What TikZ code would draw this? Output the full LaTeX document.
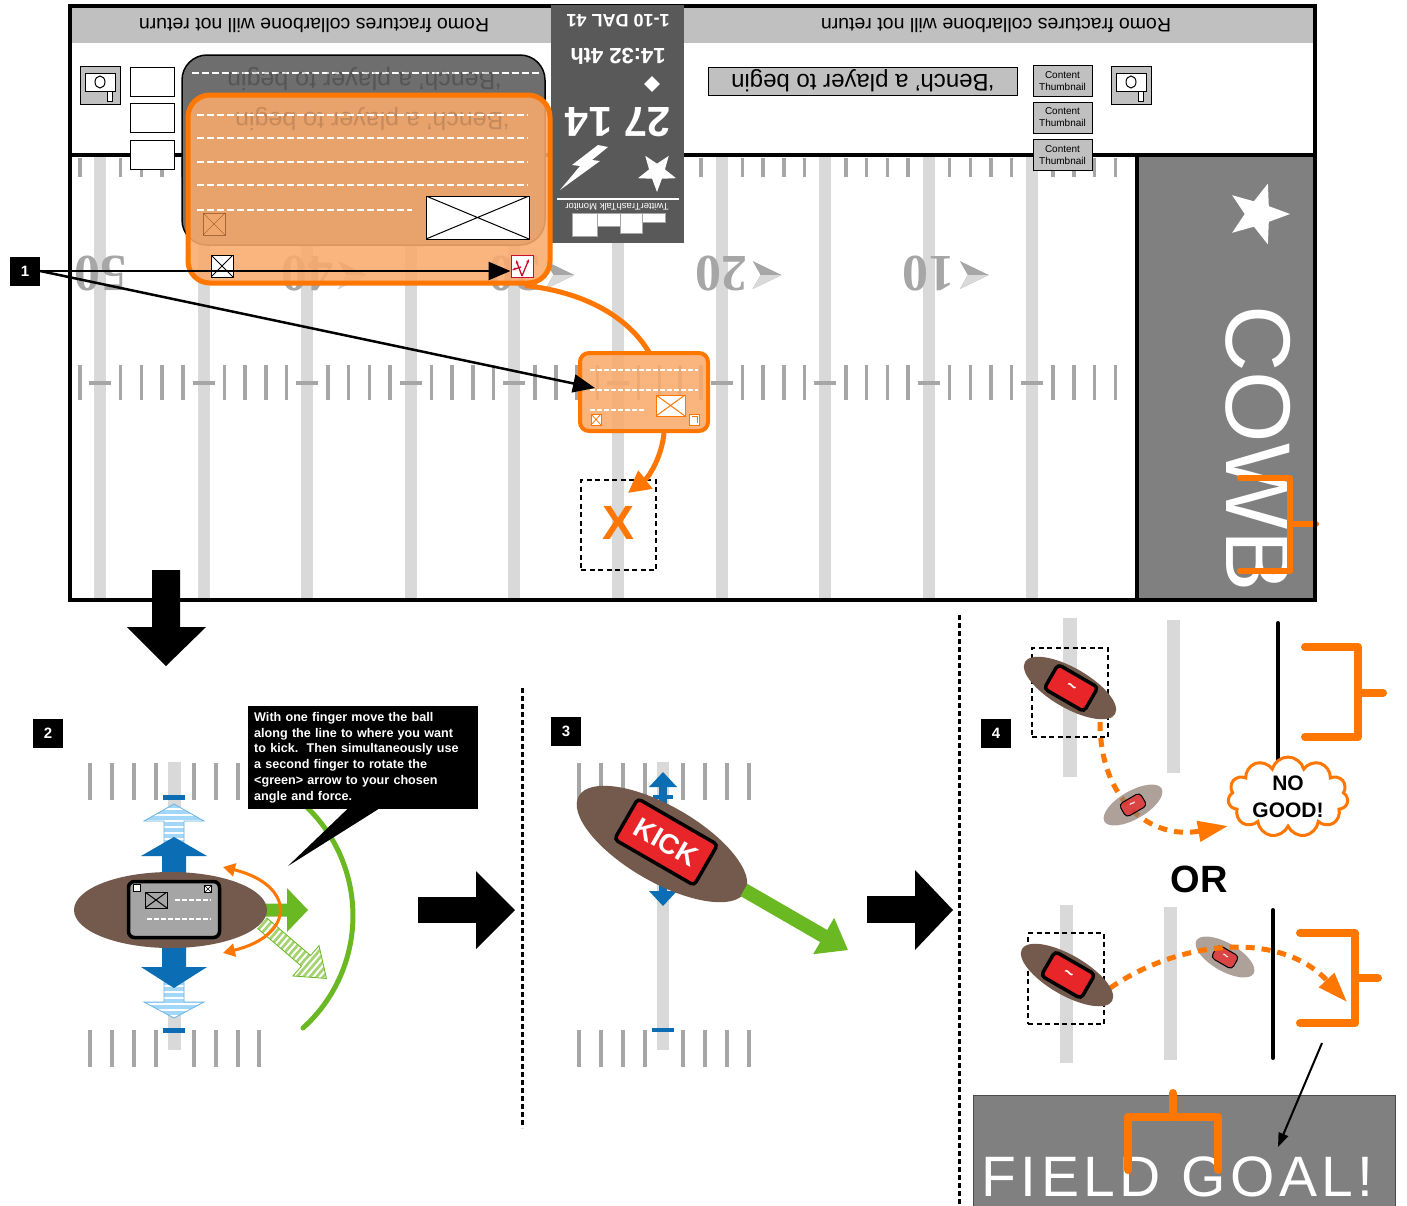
\documentclass[tikz,border=0pt]{standalone}
\usepackage{fontspec}
\setmainfont{Liberation Sans}
\newfontfamily\yardfont{Liberation Serif}
\newfontfamily\widefont{Liberation Sans}[LetterSpace=8]
\usetikzlibrary{arrows.meta,shapes.geometric,shapes.symbols,calc}

\definecolor{fieldline}{HTML}{D9D9D9}
\definecolor{hash}{HTML}{A6A6A6}
\definecolor{band}{HTML}{C0C0C0}
\definecolor{board}{HTML}{595959}
\definecolor{ezone}{HTML}{808080}
\definecolor{orng}{HTML}{FF7700}
\definecolor{orfill}{HTML}{FAAA6C}
\definecolor{slate}{HTML}{6E6E6E}
\definecolor{ball}{HTML}{735A4C}
\definecolor{ghost}{HTML}{8B7A6E}
\definecolor{kblue}{HTML}{0B6DB4}
\definecolor{lblue}{HTML}{A3D7F7}
\definecolor{lblueline}{HTML}{6CB4E4}
\definecolor{kgreen}{HTML}{6AB923}
\definecolor{lgreen}{HTML}{A5D36F}
\definecolor{kred}{HTML}{E8262A}
\definecolor{crim}{HTML}{C8102E}
\definecolor{cardgray}{HTML}{A5A5A5}

\begin{document}
\begin{tikzpicture}[x=1pt, y=-1pt,
  hashline/.style={draw=hash, line width=3.5pt},
  tickmark/.style={draw=hash, line width=4pt},
  yardnum/.style={text=hash, rotate=180, inner sep=0pt, font=\yardfont\bfseries\fontsize{52}{52}\selectfont},
  numlab/.style={fill=black, text=white, minimum width=30pt, minimum height=29pt, inner sep=0pt, font=\bfseries\fontsize{15}{15}\selectfont},
  ptr/.style={line width=2.5pt, -{Triangle[length=22pt,width=18pt]}},
  orline/.style={draw=orng, line width=5pt},
  ordash/.style={draw=orng, line width=5pt, dash pattern=on 9pt off 7pt},
  panelsep/.style={line width=3pt, dash pattern=on 5pt off 3pt},
  spotbox/.style={draw, line width=2.5pt, dash pattern=on 5pt off 3.5pt, inner sep=0pt},
  xbox/.style={draw=#1, fill=white, inner sep=0pt, path picture={
      \draw[#1] (path picture bounding box.north west) -- (path picture bounding box.south east)
            (path picture bounding box.south west) -- (path picture bounding box.north east);}},
  xbox/.default=black,
  carddash/.style={white, line width=2pt, dash pattern=on 7pt off 3pt},
  goalpost/.style={draw=orng, line width=8pt, line cap=round, line join=round},
  whitebox/.style={draw, fill=white, line width=0.8pt, minimum width=44pt, minimum height=29pt, inner sep=0pt},
  thumb/.style={draw, fill=band, line width=0.8pt, minimum width=59pt, minimum height=31pt, inner sep=0pt, align=center, font=\fontsize{10}{12}\selectfont},
  kickcard/.style={draw=black, fill=kred, rounded corners=4pt, inner sep=0pt, text=white},
  ballshape/.style={ellipse, fill=ball, inner sep=0pt},
  ghostball/.style={ellipse, fill=ghost, fill opacity=0.7, inner sep=0pt},
  ticker/.style={rotate=180, inner sep=0pt, font=\fontsize{19.5}{20}\selectfont},
  sbtext/.style={rotate=180, text=white, inner sep=0pt},
  camera/.pic={
    \draw[fill=band, line width=1pt] (-20,-19) rectangle (20,19);
    \draw[fill=white, line width=1pt] (-15,-12) rectangle (15,6);
    \draw[line width=1pt] (0,-3) ellipse [x radius=5, y radius=6];
    \draw[fill=white, line width=1pt] (7,6) rectangle (12,16);
  }
]
\useasboundingbox (0,0) rectangle (1407,1205);
\fill[white] (0,0) rectangle (1407,1205);

% ================= top screen: header band =================
\fill[band] (70,6) rectangle (1315,43);

% ================= field =================
\foreach \k in {0,...,9}{
  \fill[fieldline] (100+103.6*\k-6,157) rectangle (100+103.6*\k+6,598);
}
\foreach \k in {0,...,9}{
  \foreach \j in {1,...,4}{
    \draw[hashline] (100+103.6*\k+20.72*\j,158) -- (100+103.6*\k+20.72*\j,177);
    \draw[hashline] (100+103.6*\k+20.72*\j,365) -- (100+103.6*\k+20.72*\j,400);
  }
  \draw[hashline] (100+103.6*\k-11,383) -- (100+103.6*\k+11,383);
}
\draw[hashline] (80,158) -- (80,177);
\draw[hashline] (80,365) -- (80,400);

% yard numbers (far sideline, upside down)
\foreach \n/\k in {50/0,40/1,30/2,20/3,10/4}{
  \node[yardnum] (yd\n) at (100+207.2*\k,274) {\n};
}
\foreach \k in {1,...,4}{
  \fill[hash] (100+207.2*\k+31,261) -- (100+207.2*\k+60,275) -- (100+207.2*\k+31,289) -- (100+207.2*\k+39,275) -- cycle;
  \fill[fieldline] (100+207.2*\k+39,275) -- (100+207.2*\k+60,275) -- (100+207.2*\k+31,289) -- cycle;
}

% end zone
\fill[ezone] (1137,155) rectangle (1315,600);
\node[star, star points=5, star point ratio=2.4, fill=white, minimum size=64pt, inner sep=0pt, rotate=-90] (ezstar) at (1258,214) {};
\begin{scope}
  \clip (1137,155) rectangle (1315,600);
  \node[anchor=base west, rotate=-90, text=white, inner sep=0pt, font=\fontsize{92}{92}\selectfont] (cowb) at (1226,305) {COWB};
\end{scope}
\draw[goalpost, line width=6pt] (1240,478) -- (1290,478) -- (1290,571) -- (1240,571);
\draw[goalpost, line width=6pt] (1290,524) -- (1316,524);

% frame
\draw[line width=4pt] (70,6) rectangle (1315,600);
\draw[line width=4pt] (70,155) -- (1315,155);
\draw[line width=4pt] (1137,155) -- (1137,600);

% ================= scoreboard =================
\fill[board] (551,5) rectangle (684,243);
\node[sbtext, font=\bfseries\fontsize{18}{18}\selectfont] (downs) at (618,21) {1-10 DAL 41};
\node[sbtext, font=\bfseries\fontsize{22}{22}\selectfont] (clock) at (618,56) {14:32 4th};
\node[diamond, fill=white, minimum size=16pt, inner sep=0pt] (poss) at (652,84) {};
\node[sbtext, font=\bfseries\fontsize{42}{42}\selectfont] (score) at (618,122) {27 14};
\fill[white] (598,145) -- (608,147) -- (592,160) -- (600,161) -- (560,190) -- (580,166) -- (572,165) -- cycle;
\node[star, star points=5, star point ratio=2.4, fill=white, minimum size=40pt, inner sep=0pt, rotate=180] (teamstar) at (657,172) {};
\draw[white, line width=2pt] (557,199) -- (679,199);
\node[sbtext, font=\fontsize{9.5}{9.5}\selectfont] (ttm) at (617,207) {TwitterTrashTalk Monitor};
\foreach \a/\b/\c in {572/597/236, 597/620/226, 620/642/233, 642/665/222}{
  \draw[fill=white, draw=black!35] (\a,213) rectangle (\b,\c);
}

% ================= header UI =================
\node[ticker] (tickerL) at (314,25) {Romo fractures collarbone will not return};
\node[ticker] (tickerR) at (996,25) {Romo fractures collarbone will not return};
\pic (camL) at (100,85) {camera};
\pic (camR) at (1131,85) {camera};
\node[whitebox] (tb1) at (152,81.5) {};
\node[whitebox] (tb2) at (152,117.5) {};
\node[whitebox] (tb3) at (152,155) {};
\node[thumb] (th1) at (1062.5,81) {Content\\Thumbnail};
\node[thumb] (th2) at (1062.5,117.5) {Content\\Thumbnail};
\node[thumb] (th3) at (1062.5,155) {Content\\Thumbnail};
\node[draw, fill=band, line width=1pt, rotate=180, minimum width=309pt, minimum height=28pt, inner sep=0pt, font=\fontsize{24}{24}\selectfont] (benchbox) at (862.5,81) {‘Bench’ a player to begin};

% bench panel behind the active card
\node[draw=black, line width=1.5pt, fill=slate, rounded corners=25pt, minimum width=363pt, minimum height=190pt, inner sep=0pt] (slatebox) at (363.5,150) {};
\draw[carddash] (192,73) -- (540,73);
\node[rotate=180, text=black, opacity=0.22, inner sep=0pt, font=\fontsize{25}{25}\selectfont] (benchghost) at (364,79) {‘Bench’ a player to begin};

% active orange card
\node[draw=orng, line width=5pt, fill=orfill, fill opacity=0.88, rounded corners=22pt, minimum width=362pt, minimum height=188pt, inner sep=0pt] (bigcard) at (369,189) {};
\node[rotate=180, text=black, opacity=0.15, inner sep=0pt, font=\fontsize{25}{25}\selectfont] (benchfaint) at (372,119) {‘Bench’ a player to begin};
\foreach \yy in {115,138,162,185}{ \draw[carddash] (197,\yy) -- (528,\yy); }
\draw[carddash] (197,210) -- (412,210);
\node[xbox, minimum width=103pt, minimum height=43pt, line width=1pt] (ximg) at (477.5,217.5) {};
\node[xbox=black!60!orng, fill=orfill, minimum width=22pt, minimum height=22pt, opacity=0.5] (xfaint) at (214,224) {};
\node[xbox, minimum width=22pt, minimum height=22pt, line width=1pt] (xsmall) at (222,266) {};
\node[draw=crim, fill=white, line width=1pt, minimum size=22pt, inner sep=0pt] (swap) at (522,266) {};
\draw[crim, line width=1.3pt, -{Stealth[length=4pt]}] (522,276) -- (516,260);
\draw[crim, line width=1.3pt, -{Stealth[length=4pt]}] (522,276) -- (529,259);
\draw[crim, line width=1.3pt, -{Stealth[length=4pt]}] (521,267) -- (512,270);

% callout 1
\node[numlab] (lab1) at (25,271) {1};
\draw[ptr] (lab1.east) -- (lab1.east -| swap.west);

% small orange card on the field
\draw[orline] ([xshift=156pt]bigcard.south) .. controls (592,293) and (632,322) .. (650,354);
\node[draw=orng, line width=4pt, fill=orfill, fill opacity=0.88, rounded corners=9pt, minimum width=128pt, minimum height=78pt, inner sep=0pt] (smallcard) at (644,392) {};
\foreach \yy in {370,390}{ \draw[white, line width=1.5pt, dash pattern=on 5pt off 2pt] (590,\yy) -- (698,\yy); }
\draw[white, line width=1.5pt, dash pattern=on 5pt off 2pt] (590,410) -- (645,410);
\node[xbox=orng, minimum width=29pt, minimum height=21pt, line width=1pt] (ximg2) at (670.5,405.5) {};
\node[xbox=orng, minimum width=10pt, minimum height=11pt, line width=0.8pt] (xsmall2) at (596,419.5) {};
\node[draw=orng, fill=white, minimum width=10pt, minimum height=11pt, inner sep=0pt, line width=0.8pt] (swap2) at (694.5,419.5) {};
\draw[orng, line width=0.8pt] (692,416) -- (697,416) -- (697,423);
\coordinate (hit) at (595,388);
\draw[ptr] (lab1.east) -- (hit);

% drop target
\node[spotbox, minimum width=75pt, minimum height=90pt] (target) at (618.5,525) {};
\node[text=orng, inner sep=0pt, font=\bfseries\fontsize{48}{48}\selectfont] (xmark) at (618,523) {X};
\coordinate (drop) at (628,493);
\draw[orline, -{Triangle[length=22pt,width=22pt]}] ([xshift=20pt]smallcard.south) .. controls (662,455) and (650,476) .. (drop);

% step down
\fill (152,570) -- (180,570) -- (180,627) -- (206,627) -- (166,666) -- (127,627) -- (152,627) -- cycle;

% separators
\draw[panelsep] (522,688) -- (522,1128);
\draw[panelsep] (959,615) -- (959,1205);

% ================= panel 2 =================
\node[numlab] (lab2) at (48,733) {2};
\foreach \x in {90,112,134,156,194,216,238}{ \draw[tickmark] (\x,763) -- (\x,800); }
\foreach \x in {90,112,134,156,194,216,238,259}{ \draw[tickmark] (\x,1030) -- (\x,1067); }
\fill[fieldline] (168,762) rectangle (181,1050);
\fill[kblue] (163,795) rectangle (185,800);
\fill[kblue] (163,1028) rectangle (185,1033);
% light striped arrows
\begin{scope}
  \clip (164,860) -- (164,821) -- (144,821) -- (174,804) -- (204,821) -- (184,821) -- (184,860) -- cycle;
  \fill[lblue] (140,800) rectangle (210,862);
  \foreach \yy in {809,815,...,860}{ \draw[white, line width=2pt] (140,\yy) -- (210,\yy); }
\end{scope}
\draw[lblueline, line width=0.8pt] (164,860) -- (164,821) -- (144,821) -- (174,804) -- (204,821) -- (184,821) -- (184,860);
\begin{scope}
  \clip (164,960) -- (164,1002) -- (144,1002) -- (174,1018) -- (204,1002) -- (184,1002) -- (184,960) -- cycle;
  \fill[lblue] (140,958) rectangle (210,1020);
  \foreach \yy in {962,968,...,1016}{ \draw[white, line width=2pt] (140,\yy) -- (210,\yy); }
\end{scope}
\draw[lblueline, line width=0.8pt] (164,960) -- (164,1002) -- (144,1002) -- (174,1018) -- (204,1002) -- (184,1002) -- (184,960);
% solid blue arrows
\fill[kblue] (162,880) -- (162,856) -- (141,856) -- (174,837) -- (207,856) -- (186,856) -- (186,880) -- cycle;
\fill[kblue] (162,940) -- (162,967) -- (141,967) -- (174,988) -- (207,967) -- (186,967) -- (186,940) -- cycle;
% green arc and arrows
\draw[kgreen, line width=5pt, line cap=round] (303,1028) arc[start angle=48, end angle=-55, radius=151];
\begin{scope}[shift={(262,923)}, rotate=-40.7]
  \begin{scope}
    \clip (0,-7) -- (58,-7) -- (58,-20) -- (85,0) -- (58,20) -- (58,7) -- (0,7) -- cycle;
    \fill[lgreen] (-2,-22) rectangle (88,22);
    \foreach \xx in {4,9,...,84}{ \draw[white, line width=2pt] (\xx,-22) -- (\xx,22); }
  \end{scope}
  \draw[kgreen, line width=0.8pt] (0,-7) -- (58,-7) -- (58,-20) -- (85,0) -- (58,20) -- (58,7) -- (0,7);
\end{scope}
\fill[kgreen] (262,903.5) -- (287,903.5) -- (287,888) -- (308,910) -- (287,932) -- (287,916.5) -- (262,916.5) -- cycle;
\draw[orng, line width=3pt, {Triangle[length=12pt,width=13pt]}-{Triangle[length=12pt,width=13pt]}] (223,867) .. controls (296,885) and (296,935) .. (223,953);
% ball with card
\node[ballshape, minimum width=193pt, minimum height=76pt] (ball2) at (170.5,910) {};
\node[draw, line width=3.5pt, fill=cardgray, rounded corners=6pt, minimum width=91pt, minimum height=56pt, inner sep=0pt] (card2) at (174,909.5) {};
\node[xbox, fill=cardgray, minimum width=22pt, minimum height=16pt, line width=1pt] (ximg3) at (156,900) {};
\node[draw, fill=white, minimum size=7pt, inner sep=0pt, line width=0.6pt] (ic2a) at (137,888) {};
\node[xbox, minimum size=7pt, line width=0.6pt] (ic2b) at (208,889) {};
\draw[white, line width=1.5pt, dash pattern=on 5pt off 2pt] (175,900) -- (211,900);
\draw[white, line width=1.5pt, dash pattern=on 5pt off 2pt] (147,919) -- (211,919);
% instruction callout
\node[fill=black, text=white, anchor=north west, text width=218pt, inner xsep=6pt, inner ysep=6pt, align=left, font=\bfseries\fontsize{12.6}{15.8}\selectfont] (tip) at (248,706) {With one finger move the ball\\along the line to where you want\\to kick.\ \ Then simultaneously use\\a second finger to rotate the\\<green> arrow to your chosen\\angle and force.};
\fill ([xshift=-16pt]tip.south) -- ([xshift=15pt]tip.south) -- (288,866) -- cycle;
% next step
\fill (418,897) rectangle (477,923);
\fill (476,871) -- (515,910) -- (476,949) -- cycle;

% ================= panel 3 =================
\node[numlab] (lab3) at (566,731) {3};
\foreach \x in {579,601,623,645,683,705,727,749}{
  \draw[tickmark] (\x,763) -- (\x,800);
  \draw[tickmark] (\x,1030) -- (\x,1067);
}
\fill[fieldline] (657,762) rectangle (669,1050);
\fill[kblue] (652,1028) rectangle (674,1032);
\fill[kblue] (659,786) rectangle (667,892);
\fill[kblue] (649,787) -- (663,772) -- (677,787) -- cycle;
\fill[kblue] (649,891) -- (663,906) -- (677,891) -- cycle;
\fill[kblue] (653,795) rectangle (673,799);
\node[ballshape, minimum width=192pt, minimum height=76pt, rotate=-30] (ball3) at (662,844) {};
\node[kickcard, line width=3.5pt, minimum width=92pt, minimum height=47pt, rotate=-30, font=\bfseries\fontsize{28}{28}\selectfont] (kick) at (666,842) {KICK};
\begin{scope}[shift={(744,890)}, rotate=-30]
  \fill[kgreen] (0,-7) -- (92,-7) -- (92,-21) -- (120,0) -- (92,21) -- (92,7) -- (0,7) -- cycle;
\end{scope}
\fill (867,896) rectangle (916,923);
\fill (915,870) -- (953,910) -- (915,950) -- cycle;

% ================= panel 4 =================
\node[numlab] (lab4) at (996,733) {4};
% miss
\fill[fieldline] (1063,618) rectangle (1077,777);
\fill[fieldline] (1167,620) rectangle (1180,773);
\draw[line width=4pt, line cap=round] (1278,623) -- (1278,767);
\draw[goalpost] (1305,647) -- (1358,647) -- (1358,737) -- (1305,737);
\draw[goalpost] (1358,693) -- (1383,693);
\node[spotbox, minimum width=76pt, minimum height=89pt] (spotA) at (1070,692.5) {};
\coordinate (launchA) at (1100,722);
\coordinate (landA) at (1228,826);
\draw[ordash, -{Triangle[length=30pt,width=20pt]}] (launchA) .. controls (1100,800) and (1150,840) .. (landA);
\node[ghostball, minimum width=66pt, minimum height=28pt, rotate=30] (ghostA) at (1133,805) {};
\node[kickcard, fill opacity=0.75, text opacity=1, line width=1pt, minimum width=24pt, minimum height=15pt, rotate=30, font=\bfseries\fontsize{11}{11}\selectfont] (gcardA) at (1133,805) {\textasciitilde};
\node[ballshape, minimum width=104pt, minimum height=40pt, rotate=-30] (ballA) at (1070,688) {};
\node[kickcard, line width=3.5pt, minimum width=46pt, minimum height=28pt, rotate=-30, font=\bfseries\fontsize{17}{17}\selectfont] (cardA) at (1071,688) {\textasciitilde};
\node[cloud, cloud puffs=11, aspect=1.5, draw=orng, line width=3pt, fill=white, minimum width=120pt, minimum height=80pt, inner sep=0pt] (nogood) at (1288,797) {};
\node[align=center, inner sep=0pt, font=\bfseries\fontsize{21}{27}\selectfont] (nogoodtext) at (1288,797) {NO\\GOOD!};
\node[inner sep=0pt, font=\bfseries\fontsize{38}{38}\selectfont] (orword) at (1199,879) {OR};
% make
\fill[fieldline] (1060,905) rectangle (1073,1063);
\fill[fieldline] (1164,907) rectangle (1177,1060);
\draw[line width=4pt, line cap=round] (1273,910) -- (1273,1058);
\draw[goalpost] (1300,933) -- (1355,933) -- (1355,1023) -- (1300,1023);
\draw[goalpost] (1355,978) -- (1378,978);
\node[spotbox, minimum width=76pt, minimum height=91pt] (spotB) at (1066,978.5) {};
\node[ghostball, minimum width=66pt, minimum height=28pt, rotate=-30] (ghostB) at (1225,957) {};
\node[kickcard, fill opacity=0.75, text opacity=1, line width=1pt, minimum width=24pt, minimum height=15pt, rotate=-30, font=\bfseries\fontsize{11}{11}\selectfont] (gcardB) at (1225,957) {\textasciitilde};
\coordinate (launchB) at (1110,988);
\coordinate (landB) at (1347,1002);
\draw[ordash, -{Triangle[length=30pt,width=20pt]}] (launchB) .. controls (1180,940) and (1280,930) .. (landB);
\node[ballshape, minimum width=104pt, minimum height=40pt, rotate=-30] (ballB) at (1067,975) {};
\node[kickcard, line width=3.5pt, minimum width=46pt, minimum height=28pt, rotate=-30, font=\bfseries\fontsize{17}{17}\selectfont] (cardB) at (1068,975) {\textasciitilde};
% result banner
\node[fill=ezone, draw=black!70, anchor=north west, minimum width=422pt, minimum height=115pt, inner sep=0pt] (fgpanel) at (973,1095) {};
\node[anchor=base west, text=white, inner sep=0pt, font=\widefont\fontsize{57}{57}\selectfont] (fgtext) at (981,1196) {FIELD GOAL!};
\draw[goalpost] (1173,1093) -- (1173,1117);
\draw[goalpost] (1128,1170) -- (1128,1117) -- (1218,1117) -- (1218,1170);
\coordinate (fgfrom) at (1322,1043);
\coordinate (fgto) at (1278,1147);
\draw[line width=2pt, -{Triangle[length=14pt,width=10pt]}] (fgfrom) -- (fgto);
\end{tikzpicture}
\end{document}
